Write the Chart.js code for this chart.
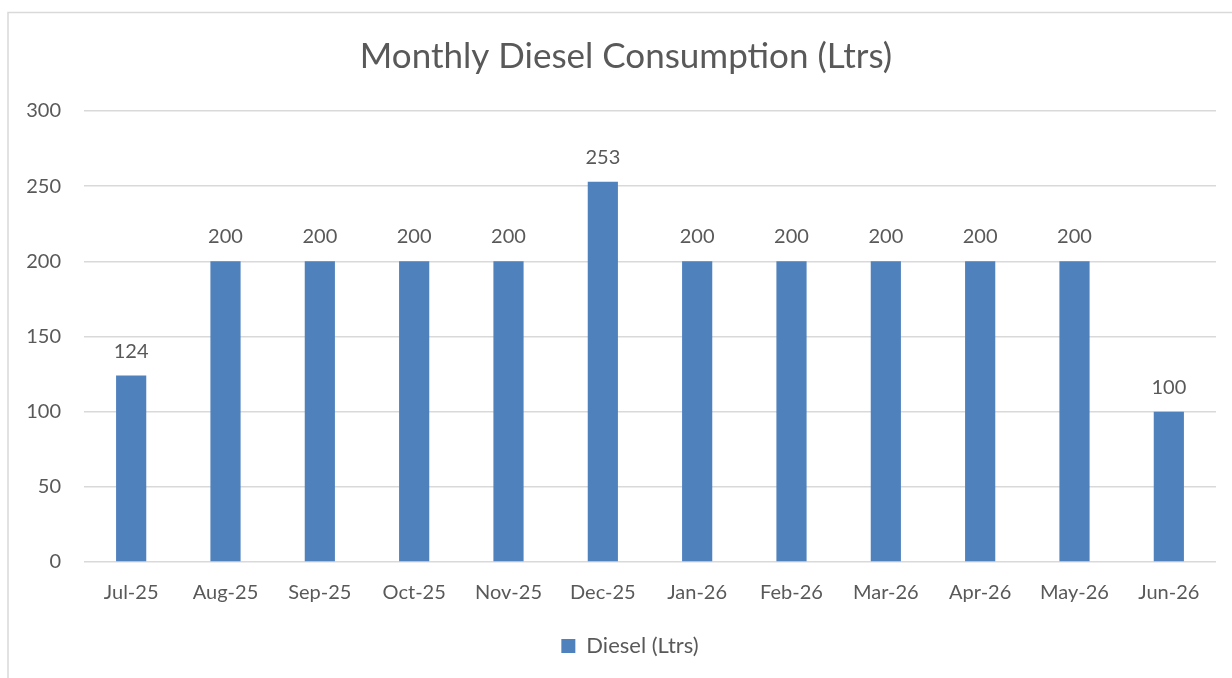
<!DOCTYPE html>
<html>
<head>
<meta charset="utf-8">
<script src="https://cdn.jsdelivr.net/npm/chart.js@4/dist/chart.umd.min.js"></script>
<style>
  html, body { margin: 0; padding: 0; background: #fff; }
  #wrap { position: absolute; left: 0; top: 0; width: 1232px; height: 678px; }
</style>
</head>
<body>
<div id="wrap"><canvas id="chart"></canvas></div>
<script>
// chart data
var months = ['Jul-25', 'Aug-25', 'Sep-25', 'Oct-25', 'Nov-25', 'Dec-25',
              'Jan-26', 'Feb-26', 'Mar-26', 'Apr-26', 'May-26', 'Jun-26'];
var dieselLtrs = [124, 200, 200, 200, 200, 253, 200, 200, 200, 200, 200, 100];
var yTicks = [0, 50, 100, 150, 200, 250, 300];
var chartTitle = 'Monthly Diesel Consumption (Ltrs)';

var textColor = '#595959';
var fontFamily = 'Lato, "Open Sans", sans-serif';

// white background, the light frame and the title (centred on the frame, not the canvas)
var framePlugin = {
    id: 'frame',
    afterLayout: function(chart) {
        // the legend sits centred under the frame, a bit right of the canvas centre
        if (chart.legend) {
            chart.legend.left += 22;
            chart.legend.right += 22;
        }
    },
    beforeDraw: function(chart) {
        var ctx = chart.ctx;
        ctx.save();
        ctx.fillStyle = '#fff';
        ctx.fillRect(0, 0, chart.width, chart.height);
        ctx.strokeStyle = '#d9d9d9';
        ctx.lineWidth = 1.5;
        ctx.strokeRect(8, 12.5, chart.width + 20, chart.height + 20);
        ctx.fillStyle = textColor;
        ctx.font = '35px ' + fontFamily;
        ctx.textAlign = 'center';
        ctx.textBaseline = 'middle';
        ctx.fillText(chartTitle, 626, 57);
        ctx.restore();
    }
};

// value labels above each bar
var barLabels = {
    id: 'barLabels',
    afterDatasetsDraw: function(chart) {
        var ctx = chart.ctx;
        ctx.save();
        ctx.fillStyle = textColor;
        ctx.font = '20px ' + fontFamily;
        ctx.textAlign = 'center';
        ctx.textBaseline = 'alphabetic';
        chart.getDatasetMeta(0).data.forEach(function(bar, i) {
            ctx.fillText(String(dieselLtrs[i]), bar.x, bar.y - 18);
        });
        ctx.restore();
    }
};

new Chart(document.getElementById('chart').getContext('2d'), {
    type: 'bar',
    data: {
        labels: months,
        datasets: [{
            label: 'Diesel (Ltrs)',
            data: dieselLtrs,
            backgroundColor: '#4f81bd',
            borderWidth: 0,
            barPercentage: 0.32,
            categoryPercentage: 1.0
        }]
    },
    options: {
        responsive: true,
        maintainAspectRatio: false,
        animation: false,
        layout: { padding: { left: 0, right: 16, top: 111, bottom: 11 } },
        plugins: {
            title: { display: false },
            legend: {
                position: 'bottom',
                labels: {
                    color: textColor,
                    font: { family: fontFamily, size: 22 },
                    boxWidth: 14,
                    boxHeight: 14,
                    padding: 19
                }
            },
            tooltip: { enabled: false }
        },
        scales: {
            x: {
                grid: { display: false },
                border: { display: false },
                ticks: {
                    color: textColor,
                    font: { family: fontFamily, size: 20 },
                    padding: 11,
                    maxRotation: 0
                }
            },
            y: {
                min: 0,
                max: 300,
                afterFit: function(scale) { scale.width = 84; },
                afterBuildTicks: function(scale) {
                    scale.ticks = yTicks.map(function(v) { return { value: v }; });
                },
                grid: { color: '#d9d9d9', lineWidth: 1.5, drawTicks: false },
                border: { display: false },
                ticks: {
                    color: textColor,
                    font: { family: fontFamily, size: 20 },
                    padding: 23
                }
            }
        }
    },
    plugins: [framePlugin, barLabels]
});
</script>
</body>
</html>
